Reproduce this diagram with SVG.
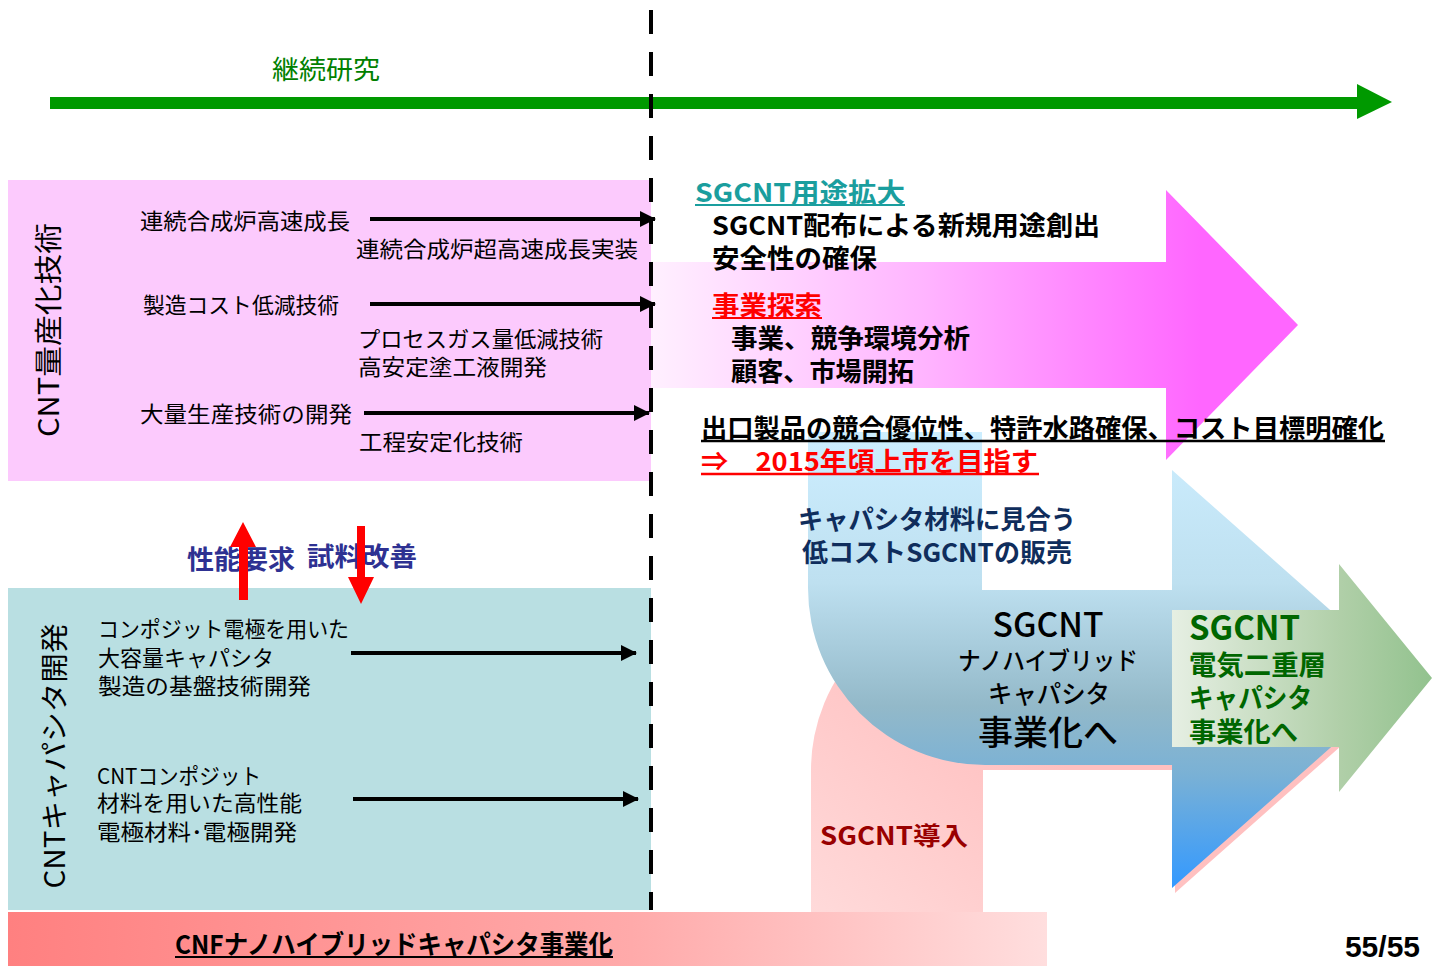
<svg xmlns="http://www.w3.org/2000/svg" width="1445" height="966" viewBox="0 0 1445 966">
<defs>
<style>
text{font-family:"Noto Sans CJK JP","Liberation Sans",sans-serif;}
.n{font-size:22px;fill:#000;}
.b{font-size:26px;font-weight:bold;fill:#000;}
.v{font-size:28px;fill:#000;}
.m{fill:#000;font-weight:500;}
.ar{stroke:#000;stroke-width:4;fill:none;marker-end:url(#ah);}
</style>
<marker id="ah" markerUnits="userSpaceOnUse" markerWidth="16" markerHeight="18" viewBox="0 0 16 18" refX="15" refY="9" orient="auto">
<path d="M0,1 L16,9 L0,17 Z" fill="#000"/>
</marker>
<linearGradient id="gMag" gradientUnits="userSpaceOnUse" x1="651" y1="0" x2="1200" y2="0">
<stop offset="0" stop-color="#FFF0FF"/>
<stop offset="0.5" stop-color="#FFB4FF"/>
<stop offset="1" stop-color="#FF66FF"/>
</linearGradient>
<linearGradient id="gBlue" gradientUnits="userSpaceOnUse" x1="0" y1="432" x2="0" y2="888">
<stop offset="0" stop-color="#CDEEFF"/>
<stop offset="0.33" stop-color="#BEE0F0"/>
<stop offset="0.6" stop-color="#93B9C9"/>
<stop offset="0.75" stop-color="#7AB1D5"/>
<stop offset="1" stop-color="#3399FF"/>
</linearGradient>
<linearGradient id="gPink" gradientUnits="userSpaceOnUse" x1="985" y1="700" x2="811" y2="912">
<stop offset="0" stop-color="#FFC0C0"/>
<stop offset="1" stop-color="#FFDADA"/>
</linearGradient>
<linearGradient id="gGreen" gradientUnits="userSpaceOnUse" x1="1172" y1="0" x2="1432" y2="0">
<stop offset="0" stop-color="#E6EFE3"/>
<stop offset="0.65" stop-color="#B0CFA8"/>
<stop offset="1" stop-color="#92C28E"/>
</linearGradient>
<linearGradient id="gBand" gradientUnits="userSpaceOnUse" x1="8" y1="0" x2="1047" y2="0">
<stop offset="0" stop-color="#FF8080"/>
<stop offset="0.6" stop-color="#FFAAAA"/>
<stop offset="1" stop-color="#FFDEDE"/>
</linearGradient>
</defs>

<g id="research-arrow">
<rect x="50" y="97" width="1310" height="12" fill="#009900"/>
<polygon points="1357,84 1392,102 1357,119" fill="#009900"/>
<text x="272" y="79" font-size="26" fill="#008000" textLength="108" lengthAdjust="spacingAndGlyphs">継続研究</text>
</g>

<g id="mass-production">
<rect x="8" y="180" width="643" height="301" fill="#FCCAFD"/>
<text class="v" transform="translate(59,330) rotate(-90)" text-anchor="middle" textLength="214" lengthAdjust="spacingAndGlyphs">CNT量産化技術</text>
<text class="n" x="140" y="229" textLength="210" lengthAdjust="spacingAndGlyphs">連続合成炉高速成長</text>
<text class="n" x="356" y="257" textLength="282" lengthAdjust="spacingAndGlyphs">連続合成炉超高速成長実装</text>
<text class="n" x="143" y="313" textLength="196" lengthAdjust="spacingAndGlyphs">製造コスト低減技術</text>
<text class="n" x="358" y="347" textLength="245" lengthAdjust="spacingAndGlyphs">プロセスガス量低減技術</text>
<text class="n" x="358" y="375" textLength="189" lengthAdjust="spacingAndGlyphs">高安定塗工液開発</text>
<text class="n" x="140" y="422" textLength="212" lengthAdjust="spacingAndGlyphs">大量生産技術の開発</text>
<text class="n" x="359" y="450" textLength="164" lengthAdjust="spacingAndGlyphs">工程安定化技術</text>
</g>

<g id="capacitor-dev">
<rect x="8" y="588" width="643" height="322" fill="#B9DFE2"/>
<text class="v" transform="translate(65,756) rotate(-90)" text-anchor="middle" textLength="265" lengthAdjust="spacingAndGlyphs">CNTキャパシタ開発</text>
<text class="n" x="98" y="637" font-size="21" textLength="251" lengthAdjust="spacingAndGlyphs">コンポジット電極を用いた</text>
<text class="n" x="98" y="666" font-size="21" textLength="176" lengthAdjust="spacingAndGlyphs">大容量キャパシタ</text>
<text class="n" x="98" y="694" font-size="21" textLength="213" lengthAdjust="spacingAndGlyphs">製造の基盤技術開発</text>
<text class="n" x="97" y="784" font-size="21" textLength="164" lengthAdjust="spacingAndGlyphs">CNTコンポジット</text>
<text class="n" x="97" y="811" font-size="21" textLength="205" lengthAdjust="spacingAndGlyphs">材料を用いた高性能</text>
<text class="n" x="97" y="840" font-size="21" textLength="200" lengthAdjust="spacingAndGlyphs">電極材料･電極開発</text>
</g>

<g id="sgcnt-expansion">
<path d="M651,262 L1166,262 L1166,190 L1298,325 L1166,460 L1166,388 L651,388 Z" fill="url(#gMag)"/>
<text class="b" x="695" y="202" style="fill:#1A9E9E" textLength="210" lengthAdjust="spacingAndGlyphs">SGCNT用途拡大</text>
<line x1="695" y1="205" x2="905" y2="205" stroke="#1A9E9E" stroke-width="2"/>
<text class="b" x="712" y="235" textLength="388" lengthAdjust="spacingAndGlyphs">SGCNT配布による新規用途創出</text>
<text class="b" x="712" y="268" textLength="165" lengthAdjust="spacingAndGlyphs">安全性の確保</text>
<text class="b" x="712" y="315" style="fill:#FF0000" textLength="110" lengthAdjust="spacingAndGlyphs">事業探索</text>
<line x1="712" y1="318" x2="822" y2="318" stroke="#FF0000" stroke-width="2"/>
<text class="b" x="731" y="348" textLength="239" lengthAdjust="spacingAndGlyphs">事業、競争環境分析</text>
<text class="b" x="731" y="381" textLength="183" lengthAdjust="spacingAndGlyphs">顧客、市場開拓</text>
</g>

<g id="sgcnt-introduction">
<path d="M811,912 L811,770 A175,175 0 0 1 986,595 L1175,595 L1175,475 L1411,684 L1175,893 L1175,770 L983,770 L983,912 Z" fill="url(#gPink)"/>
<text class="b" x="820" y="845" style="fill:#990000;font-size:25px" textLength="148" lengthAdjust="spacingAndGlyphs">SGCNT導入</text>
</g>

<g id="nanohybrid">
<path d="M808,432 L982,432 L982,590 L1172,590 L1172,470 L1408,679 L1172,888 L1172,765 L985,765 A177,177 0 0 1 808,588 Z" fill="url(#gBlue)"/>
<text class="b" x="798" y="529" style="fill:#0F2D5C" textLength="278" lengthAdjust="spacingAndGlyphs">キャパシタ材料に見合う</text>
<text class="b" x="802" y="562" style="fill:#0F2D5C" textLength="270" lengthAdjust="spacingAndGlyphs">低コストSGCNTの販売</text>
<text class="m" x="1048" y="637" font-size="34" text-anchor="middle" textLength="111" lengthAdjust="spacingAndGlyphs">SGCNT</text>
<text class="m" x="1048" y="670" font-size="25" text-anchor="middle" textLength="180" lengthAdjust="spacingAndGlyphs">ナノハイブリッド</text>
<text class="m" x="1049" y="703" font-size="25" text-anchor="middle" textLength="122" lengthAdjust="spacingAndGlyphs">キャパシタ</text>
<text class="m" x="1048" y="745" font-size="34" text-anchor="middle" textLength="140" lengthAdjust="spacingAndGlyphs">事業化へ</text>
</g>

<g id="edlc">
<path d="M1172,610 L1339,610 L1339,564 L1432,678 L1339,792 L1339,747 L1172,747 Z" fill="url(#gGreen)"/>
<text x="1189" y="640" font-size="33" font-weight="bold" fill="#006600" textLength="111" lengthAdjust="spacingAndGlyphs">SGCNT</text>
<text x="1189" y="675" font-size="27" font-weight="bold" fill="#006600" textLength="137" lengthAdjust="spacingAndGlyphs">電気二重層</text>
<text x="1189" y="708" font-size="27" font-weight="bold" fill="#006600" textLength="123" lengthAdjust="spacingAndGlyphs">キャパシタ</text>
<text x="1189" y="742" font-size="27" font-weight="bold" fill="#006600" textLength="109" lengthAdjust="spacingAndGlyphs">事業化へ</text>
</g>

<g id="exit-goals">
<text class="b" x="701" y="438" textLength="683" lengthAdjust="spacingAndGlyphs">出口製品の競合優位性、特許水路確保、コスト目標明確化</text>
<line x1="701" y1="441" x2="1385" y2="441" stroke="#000" stroke-width="2.5"/>
<text class="b" x="701" y="471" style="fill:#FF0000" textLength="337" lengthAdjust="spacingAndGlyphs">⇒　2015年頃上市を目指す</text>
<line x1="701" y1="474" x2="1039" y2="474" stroke="#FF0000" stroke-width="2.5"/>
</g>

<g id="cnf-business">
<rect x="8" y="912" width="1039" height="54" fill="url(#gBand)"/>
<text class="b" x="175" y="954" textLength="438" lengthAdjust="spacingAndGlyphs">CNFナノハイブリッドキャパシタ事業化</text>
<line x1="175" y1="957" x2="613" y2="957" stroke="#000" stroke-width="2"/>
</g>

<g id="feedback">
<text class="b" x="187" y="569" style="fill:#2E3192" textLength="108" lengthAdjust="spacingAndGlyphs">性能要求</text>
<text class="b" x="307" y="566" style="fill:#2E3192" textLength="110" lengthAdjust="spacingAndGlyphs">試料改善</text>
</g>

<g id="page-number">
<text x="1420" y="957" style="font-family:'Liberation Sans',sans-serif" font-size="30" font-weight="bold" fill="#000" text-anchor="end">55/55</text>
</g>

<g id="connectors">
<line x1="651" y1="10" x2="651" y2="910" stroke="#000" stroke-width="4" stroke-dasharray="24 18"/>
<line class="ar" x1="370" y1="219" x2="655" y2="219"/>
<line class="ar" x1="370" y1="304" x2="655" y2="304"/>
<line class="ar" x1="364" y1="413" x2="649" y2="413"/>
<line class="ar" x1="351" y1="653" x2="636" y2="653"/>
<line class="ar" x1="353" y1="799" x2="638" y2="799"/>
<polygon points="239,600 248,600 248,547 256,547 243,522 230,547 239,547" fill="#FF0000"/>
<polygon points="357,526 365,526 365,577 374,577 361,604 348,577 357,577" fill="#FF0000"/>
</g>
</svg>
